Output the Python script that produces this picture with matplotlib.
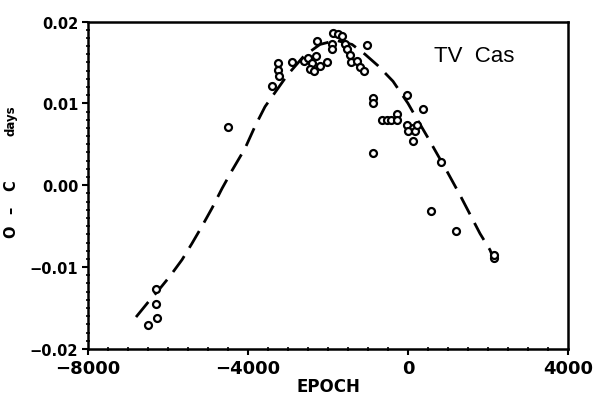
import matplotlib
matplotlib.use("Agg")
import matplotlib.pyplot as plt
from matplotlib.ticker import MultipleLocator, FixedLocator

# Observed O-C points (epoch, days)
epoch_obs = [-6300, -6300, -6270, -6500, -4500,
             -3250, -3250, -3230, -2900, -3400,
             -2600, -2500, -2400, -2300, -2200, -2450, -2350,
             -2275, -2025, -1900, -1900, -1875, -1750,
             -1650, -1575, -1525, -1450, -1425, -1275, -1200, -1100, -1025,
             -875, -875, -650, -525, -425, -275, -275,
             -25, 375, -25, 125, 0, 175, 125, 225,
             -875, 825, 575, 1200, 2150, 2150]
oc_obs = [-0.0127, -0.0145, -0.0162, -0.0171, 0.0071,
          0.0149, 0.0141, 0.0134, 0.0150, 0.0121,
          0.0152, 0.0156, 0.0149, 0.0158, 0.0146, 0.0142, 0.0139,
          0.0176, 0.0151, 0.0173, 0.0166, 0.0186, 0.0185,
          0.0182, 0.0173, 0.0167, 0.0159, 0.0151, 0.0152, 0.0145, 0.0139, 0.0171,
          0.0106, 0.0100, 0.0080, 0.0080, 0.0080, 0.0087, 0.0080,
          0.0110, 0.0093, 0.0073, 0.0070, 0.0066, 0.0066, 0.0054, 0.0073,
          0.0039, 0.0028, -0.0032, -0.0056, -0.0089, -0.0085]

# Dashed fitted curve
epoch_fit = [-6800, -6500, -6200, -5950, -5650, -5400, -5150, -4900, -4650,
             -4400, -4075, -3825, -3575, -3025, -2600, -2200, -1800, -1400,
             -1075, -750, -375, 0, 175, 475, 975, 1300, 1800, 2050, 2150]
oc_fit = [-0.0161, -0.0143, -0.0126, -0.0111, -0.0091, -0.0071, -0.0050,
          -0.0028, -0.0004, 0.0018, 0.0045, 0.0072, 0.0096, 0.0134, 0.0158,
          0.0172, 0.0177, 0.0172, 0.0160, 0.0146, 0.0127, 0.0100, 0.0085,
          0.0060, 0.0017, -0.0012, -0.0059, -0.0079, -0.0091]

x_ticks = [-8000, -4000, 0, 4000]
x_labels = ["\u22128000", "\u22124000", "0", "4000"]
y_ticks = [-0.02, -0.01, 0.00, 0.01, 0.02]
y_labels = ["\u22120.02", "\u22120.01", "0.00", "0.01", "0.02"]

fig = plt.figure(figsize=(5.96, 4.02), dpi=100)
ax = fig.add_axes([0.1477, 0.1294, 0.8053, 0.8146])

ax.plot(epoch_fit, oc_fit, color="black", lw=2.0, dashes=(7, 3.5), zorder=2)
ax.plot(epoch_obs, oc_obs, linestyle="none", marker="o", markersize=5,
        markerfacecolor="white", markeredgecolor="black", markeredgewidth=1.6,
        zorder=3)

ax.set_xlim(-8000, 4000)
ax.set_ylim(-0.02, 0.02)
ax.xaxis.set_major_locator(FixedLocator(x_ticks))
ax.set_xticklabels(x_labels, fontsize=13, fontweight="bold", family="DejaVu Sans")
ax.yaxis.set_major_locator(FixedLocator(y_ticks))
ax.set_yticklabels(y_labels, fontsize=10.5, fontweight="bold", family="DejaVu Sans")
ax.xaxis.set_minor_locator(MultipleLocator(500))
ax.yaxis.set_minor_locator(MultipleLocator(0.001))
ax.tick_params(which="major", direction="out", length=4, width=1.5, pad=3)
ax.tick_params(which="minor", direction="inout", length=3, width=1.2)
ax.tick_params(top=False, right=False, which="both")

for s in ax.spines.values():
    s.set_linewidth(1.8)

ax.set_xlabel("EPOCH", fontsize=12, fontweight="bold", labelpad=0)

# y-axis label pieces: "O – C   days"
ylab_x = 11 / 596
for txt, ypx, fs in [("O", 232, 10.5), ("\u2013", 210, 10.5),
                     ("C", 186, 10.5), ("days", 121, 8.5)]:
    fig.text(ylab_x, 1 - ypx / 402, txt, rotation=90, ha="center",
             va="center", fontsize=fs, fontweight="bold")

ax.text(0.72, 0.88, "TV  Cas", transform=ax.transAxes, fontsize=16,
        family="Liberation Sans")

fig.savefig("out.png", dpi=100)
